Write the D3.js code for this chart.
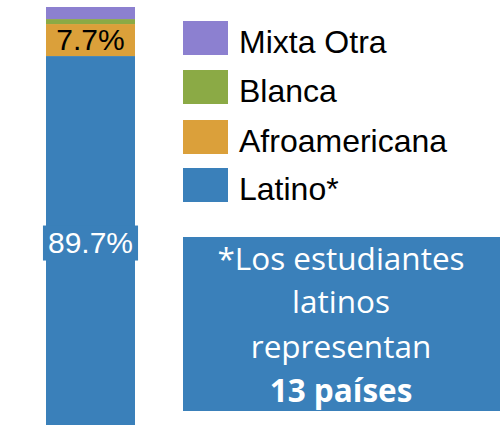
<!DOCTYPE html>
<html>
<head>
<meta charset="utf-8">
<script src="https://cdn.jsdelivr.net/npm/d3@7"></script>
<style>
  html, body { margin: 0; padding: 0; background: #fff; }
  svg { display: block; }
</style>
</head>
<body>
<div id="chart"></div>
<script>
// ---- data ----
const categories = ["Latino*", "Afroamericana", "Blanca", "Mixta Otra"];
const values = [89.7, 7.7, 1.2, 2.9];
const valueLabels = ["89.7%", "7.7%", "", ""];
const legendOrder = ["Mixta Otra", "Blanca", "Afroamericana", "Latino*"];
const colors = ["#3A80BA", "#DBA03A", "#8BAA45", "#8C80D0"];
const noteLines = ["*Los estudiantes", "latinos", "representan", "13 países"];

const W = 502, H = 425;
const svg = d3.select("#chart").append("svg").attr("width", W).attr("height", H);

const total = d3.sum(values);
const y = d3.scaleLinear().domain([0, total]).range([429, 7]);
const x = d3.scaleBand().domain(["bar"]).range([46, 135]).padding(0);
const color = d3.scaleOrdinal().domain(categories).range(colors);

// stacked segments
let acc = 0;
const segs = categories.map((c, i) => {
  const s = { cat: c, y0: acc, y1: acc + values[i], label: valueLabels[i] };
  acc += values[i];
  return s;
});

svg.selectAll("rect.seg").data(segs).join("rect")
  .attr("class", "seg")
  .attr("x", x("bar"))
  .attr("width", x.bandwidth())
  .attr("y", d => y(d.y1))
  .attr("height", d => y(d.y0) - y(d.y1))
  .attr("fill", d => color(d.cat));

// labels
segs.forEach((d, i) => {
  if (!d.label) return;
  const cx = x("bar") + x.bandwidth() / 2;
  const cy = (y(d.y0) + y(d.y1)) / 2;
  const g = svg.append("g");
  const t = g.append("text")
    .attr("x", cx).attr("y", cy + 10)
    .attr("text-anchor", "middle")
    .attr("font-family", "'Liberation Sans', Arial, sans-serif")
    .attr("font-size", 30)
    .attr("fill", i === 0 ? "#fff" : "#000")
    .text(d.label);
  if (i === 0) {
    const bb = t.node().getBBox();
    g.insert("rect", "text")
      .attr("x", bb.x - 5).attr("y", cy - 17)
      .attr("width", bb.width + 10).attr("height", 35)
      .attr("fill", color(d.cat));
  }
});

// legend
const leg = svg.append("g");
legendOrder.forEach((c, i) => {
  const ly = [21, 70, 120, 168][i];
  leg.append("rect").attr("x", 183).attr("y", ly).attr("width", 45).attr("height", 34)
    .attr("fill", color(c));
  leg.append("text").attr("x", 239).attr("y", ly + 32)
    .attr("font-family", "'Liberation Sans', Arial, sans-serif")
    .attr("font-size", 32).attr("fill", "#000").text(c);
});

// note box
svg.append("rect").attr("x", 183).attr("y", 237).attr("width", 317).attr("height", 174)
  .attr("fill", "#3A80BA");
const baselines = [270, 313, 358, 402];
noteLines.forEach((l, i) => {
  svg.append("text").attr("x", 341).attr("y", baselines[i])
    .attr("text-anchor", "middle")
    .attr("font-family", "'Open Sans', Lato, sans-serif")
    .attr("font-size", 31.5)
    .attr("font-weight", i === 3 ? "bold" : "normal")
    .attr("fill", "#fff").text(l);
});
</script>
</body>
</html>
